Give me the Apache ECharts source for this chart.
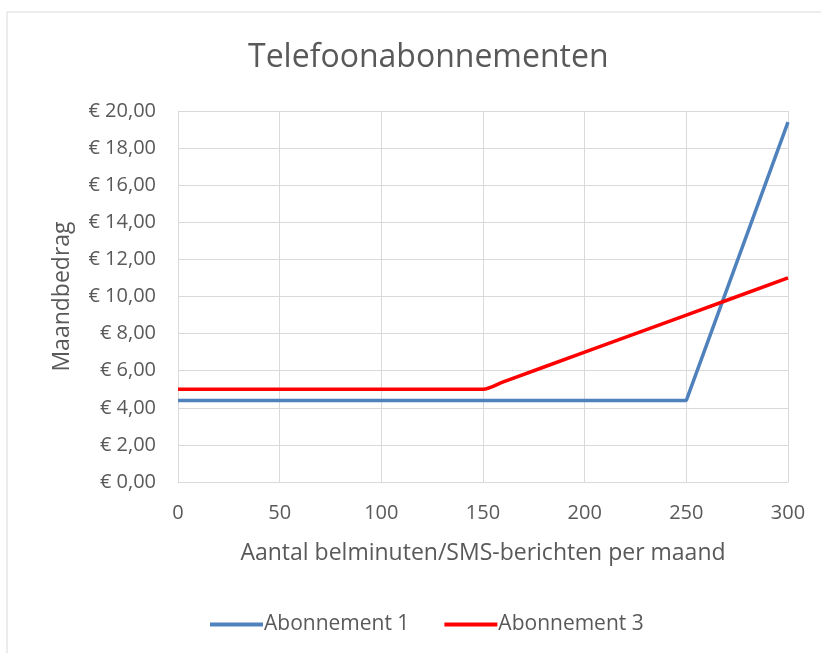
<!DOCTYPE html>
<html>
<head>
<meta charset="utf-8">
<script src="https://cdn.jsdelivr.net/npm/echarts@6/dist/echarts.min.js"></script>
<style>
  html, body { margin: 0; padding: 0; background: #fff; }
  #chart { width: 821px; height: 653px; }
</style>
</head>
<body>
<div id="chart"></div>
<script>
var minuten1 = [0, 50, 100, 150, 200, 250, 300];
var bedrag1 = [4.4, 4.4, 4.4, 4.4, 4.4, 4.4, 19.4];
var minuten3 = [0, 50, 100, 140, 150, 160, 200, 250, 300];
var bedrag3 = [5, 5, 5, 5, 5, 5.4, 7, 9, 11];
var seriesNames = ['Abonnement 1', 'Abonnement 3'];

function pairs(xs, ys) {
    return xs.map(function (x, i) { return [x, ys[i]]; });
}

var font = '"Open Sans", sans-serif';
var chart = echarts.init(document.getElementById('chart'));
var option = {
    backgroundColor: '#fff',
    textStyle: { fontFamily: font, color: '#595959' },
    graphic: [{
        type: 'rect',
        shape: { x: 7, y: 12, width: 900, height: 900 },
        style: { fill: 'none', stroke: '#d9d9d9', lineWidth: 1 },
        silent: true
    }],
    title: {
        text: 'Telefoonabonnementen',
        left: 243,
        top: 37,
        textStyle: { fontFamily: font, fontSize: 32, fontWeight: 'normal', color: '#595959' }
    },
    grid: { left: 178, right: 33, top: 111, bottom: 171 },
    legend: {
        bottom: 13,
        left: 205,
        icon: 'rect',
        itemWidth: 53,
        itemHeight: 4,
        itemGap: 35,
        textStyle: { fontFamily: font, fontSize: 21, color: '#595959', padding: [0, 0, 0, -4] },
        data: seriesNames
    },
    xAxis: {
        type: 'value',
        min: 0, max: 300, interval: 50,
        name: 'Aantal belminuten/SMS-berichten per maand',
        nameLocation: 'middle',
        nameGap: 60,
        nameTextStyle: { fontFamily: font, fontSize: 23, color: '#595959' },
        axisLine: { show: true, lineStyle: { color: '#d9d9d9' } },
        axisTick: { show: false },
        axisLabel: { fontFamily: font, fontSize: 20, color: '#595959', margin: 21 },
        splitLine: { show: true, lineStyle: { color: '#d9d9d9', width: 1 } }
    },
    yAxis: {
        type: 'value',
        min: 0, max: 20, interval: 2,
        name: 'Maandbedrag',
        nameLocation: 'middle',
        nameGap: 104,
        nameTextStyle: { fontFamily: font, fontSize: 23, color: '#595959' },
        axisLine: { show: true, lineStyle: { color: '#d9d9d9' } },
        axisTick: { show: false },
        axisLabel: {
            fontFamily: font, fontSize: 20, color: '#595959', margin: 22,
            formatter: function (v) { return '€ ' + v.toFixed(2).replace('.', ','); }
        },
        splitLine: { show: true, lineStyle: { color: '#d9d9d9', width: 1 } }
    },
    series: [
        {
            name: seriesNames[0],
            type: 'line',
            data: pairs(minuten1, bedrag1),
            showSymbol: false,
            symbol: 'none',
            itemStyle: { color: '#4f81bd' },
            lineStyle: { color: '#4f81bd', width: 3.5 }
        },
        {
            name: seriesNames[1],
            type: 'line',
            data: pairs(minuten3, bedrag3),
            showSymbol: false,
            symbol: 'none',
            smooth: 0.3,
            itemStyle: { color: '#ff0000' },
            lineStyle: { color: '#ff0000', width: 3.5 }
        }
    ]
};
chart.setOption(option);
</script>
</body>
</html>
